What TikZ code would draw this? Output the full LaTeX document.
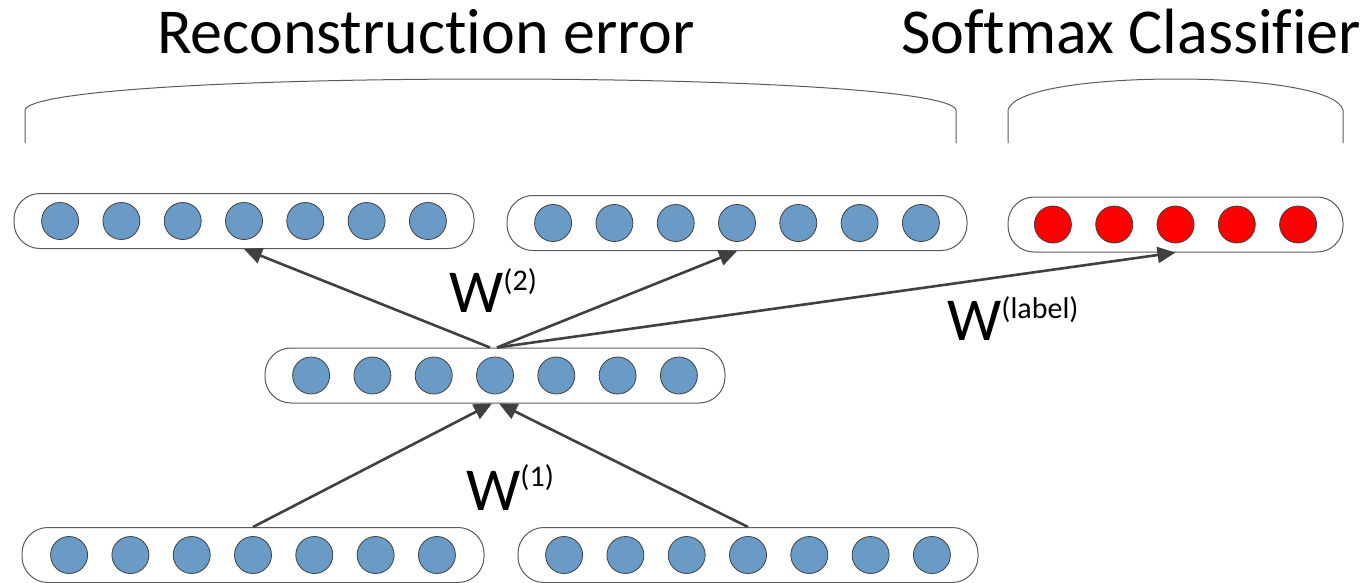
\documentclass[tikz,border=0pt]{standalone}
\usepackage{fontspec}
\setmainfont{Carlito}[Ligatures=NoCommon]
\usetikzlibrary{arrows.meta}
\definecolor{unitblue}{RGB}{106,155,199}
\definecolor{edgegray}{RGB}{64,64,64}
\definecolor{boxgray}{RGB}{90,90,90}
\newcommand\mysupsize{\fontsize{30}{32}\selectfont}
\begin{document}
\begin{tikzpicture}[x=1pt,y=-1pt,
  layer/.style={draw=boxgray, line width=1pt, rounded corners=26pt, minimum height=55pt, inner sep=0pt, fill=white},
  unit/.style={circle, draw=edgegray, line width=0.8pt, fill=unitblue, minimum size=37pt, inner sep=0pt},
  outunit/.style={unit, fill=red},
  conn/.style={draw=edgegray, line width=2.6pt, -{Triangle[length=18pt,width=16pt]}},
  bracket/.style={draw=boxgray, line width=1pt},
  title/.style={font=\fontsize{64}{76}\selectfont, inner sep=0pt, anchor=base west},
  wlabel/.style={font=\fontsize{61}{72}\selectfont, inner sep=0pt, anchor=base west}]
\useasboundingbox (0,0) rectangle (1372,582);
% brackets
\draw[bracket] (25,143) -- (25,110) .. controls (30,90) and (248,79) .. (490.5,79)
  .. controls (733,79) and (951,90) .. (956,110) -- (956,143);
\draw[bracket] (1008,143) -- (1008,110) .. controls (1013,90) and (1088,79) .. (1175.5,79)
  .. controls (1263,79) and (1338,90) .. (1343,110) -- (1343,143);
% titles
\node[title] (t1) at (157,53) {Reconstruction error};
\node[title] (t2) at (901,53) {Softmax Classifier};
% layers
\node[layer, minimum width=460pt] (c1) at (244,221) {};
\node[layer, minimum width=460pt] (c2) at (737,223) {};
\node[layer, minimum width=335pt] (sm) at (1175.5,224.5) {};
\node[layer, minimum width=460pt] (h) at (495,375.5) {};
\node[layer, minimum width=462pt] (x1) at (253,555) {};
\node[layer, minimum width=460pt] (x2) at (748,555) {};
\foreach \b in {c1,c2,h,x1,x2}
  \foreach \i in {1,...,7}
    \node[unit] (\b-\i) at ([xshift={(\i-4)*61.3}]\b.center) {};
\foreach \i in {1,...,5}
  \node[outunit] (sm-\i) at ([xshift={(\i-3)*61.3}]sm.center) {};
% connectors
\draw[conn] ([xshift=-5pt]h.north) -- (c1.south);
\draw[conn] ([xshift=2pt]h.north) -- (c2.south);
\draw[conn] ([xshift=2pt]h.north) -- (sm.south);
\draw[conn] (x1.north) -- ([xshift=-3pt]h.south);
\draw[conn] (x2.north) -- ([xshift=4pt]h.south);
% labels
\node[wlabel] (w2) at (449,312) {W\raisebox{22pt}{\mysupsize(2)}};
\node[wlabel] (wl) at (947,340) {W\raisebox{22pt}{\mysupsize(label)}};
\node[wlabel] (w1) at (466,510) {W\raisebox{24pt}{\mysupsize(1)}};
\end{tikzpicture}
\end{document}
